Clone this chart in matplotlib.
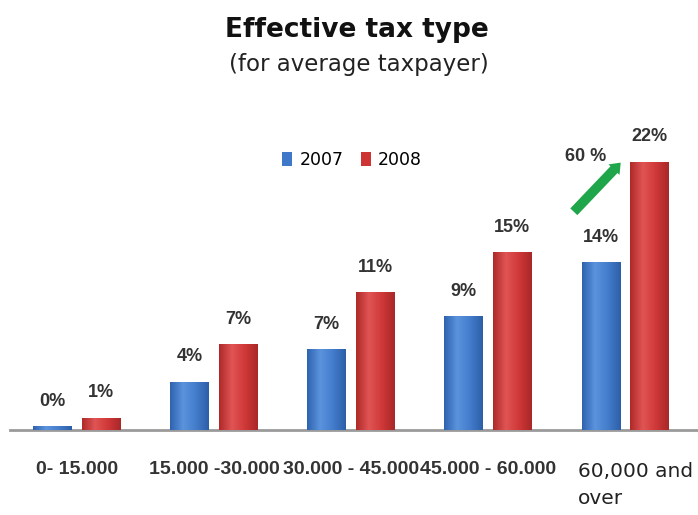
import numpy as np
import matplotlib.pyplot as plt
import matplotlib.transforms as mtransforms
from matplotlib.colors import LinearSegmentedColormap

plt.rc('font', family='DejaVu Sans')

categories = ['0- 15.000', '15.000 -30.000', '30.000 - 45.000',
              '45.000 - 60.000', '60,000 and\nover']
series = ['2007', '2008']
values_2007 = [0.3, 4.0, 6.7, 9.4, 13.9]
values_2008 = [1.0, 7.1, 11.4, 14.7, 22.2]
growth_note = '60 %'

colors = {'2007': '#3f78c8', '2008': '#cf3434'}
shades = {
    '2007': ['#2f63b0', '#5b93dd', '#447dcc', '#2d5fa8'],
    '2008': ['#b02a2a', '#e05454', '#d03838', '#a92828'],
}

fig = plt.figure(figsize=(6.98, 5.15), dpi=100)
ax = fig.add_axes([10 / 698, 85 / 515, 688 / 698, 302 / 515])

x = np.arange(len(categories))
width = 0.28
offsets = [-0.18, 0.175]

grad = np.linspace(0, 1, 64).reshape(1, -1)
for name, vals, off in zip(series, [values_2007, values_2008], offsets):
    bars = ax.bar(x + off, vals, width, color=colors[name], label=name,
                  zorder=2)
    cmap = LinearSegmentedColormap.from_list(name, shades[name])
    for b, v in zip(bars, vals):
        x0, w, h = b.get_x(), b.get_width(), b.get_height()
        im = ax.imshow(grad, cmap=cmap, aspect='auto',
                       extent=[x0, x0 + w, 0, h], zorder=3)
        im.set_clip_path(b)
        ax.annotate('%d%%' % round(v), (b.get_x() + w / 2, h),
                    xytext=(0, 18), textcoords='offset points',
                    ha='center', va='center', fontsize=13,
                    fontweight='bold', color='#333333', family='Liberation Sans')

ax.set_xlim(-0.49, 4.53)
ax.set_ylim(0, 25)
ax.set_xticks(x)
ax.set_xticklabels(categories[:-1] + [''], fontsize=14, fontweight='bold',
                   family='Liberation Sans', color='#333333')
ax.tick_params(axis='x', length=0, pad=22)

# the wrapped last category sits a bit off-centre, as in the original
trans = mtransforms.blended_transform_factory(ax.transData, ax.transAxes)
ax.text(x[-1] - 0.343, -0.105, categories[-1], transform=trans,
        ha='left', va='top', fontsize=14.5, color='#222222',
        linespacing=1.55)

ax.set_yticks([])
for side in ['left', 'right', 'top']:
    ax.spines[side].set_visible(False)
ax.spines['bottom'].set_color('#9a9a9a')
ax.spines['bottom'].set_linewidth(2)
ax.set_facecolor('none')

# growth arrow over the last group
ax.annotate('', xy=(3.98, 22.3), xytext=(3.61, 17.9),
            arrowprops=dict(arrowstyle='simple,head_width=1.1,head_length=0.7,tail_width=0.7',
                            color='#1fa64a', lw=0), zorder=4)
ax.text(3.71, 22.6, growth_note, ha='center', va='center', fontsize=13,
        fontweight='bold', color='#333333', family='Liberation Sans')

fig.text(0.511, 1 - 30 / 515, 'Effective tax type', ha='center', va='center',
         fontsize=19, fontweight='bold', color='#111111')
fig.text(0.514, 1 - 64 / 515, '(for average taxpayer)', ha='center',
         va='center', fontsize=16.5, color='#222222')

fig.legend(loc='center', bbox_to_anchor=(352 / 698, 1 - 160 / 515), ncol=2,
           frameon=False, handlelength=0.6, handleheight=0.9,
           handletextpad=0.4, columnspacing=1.0, fontsize=12.5)

fig.savefig('out.png', dpi=100, facecolor='white')
